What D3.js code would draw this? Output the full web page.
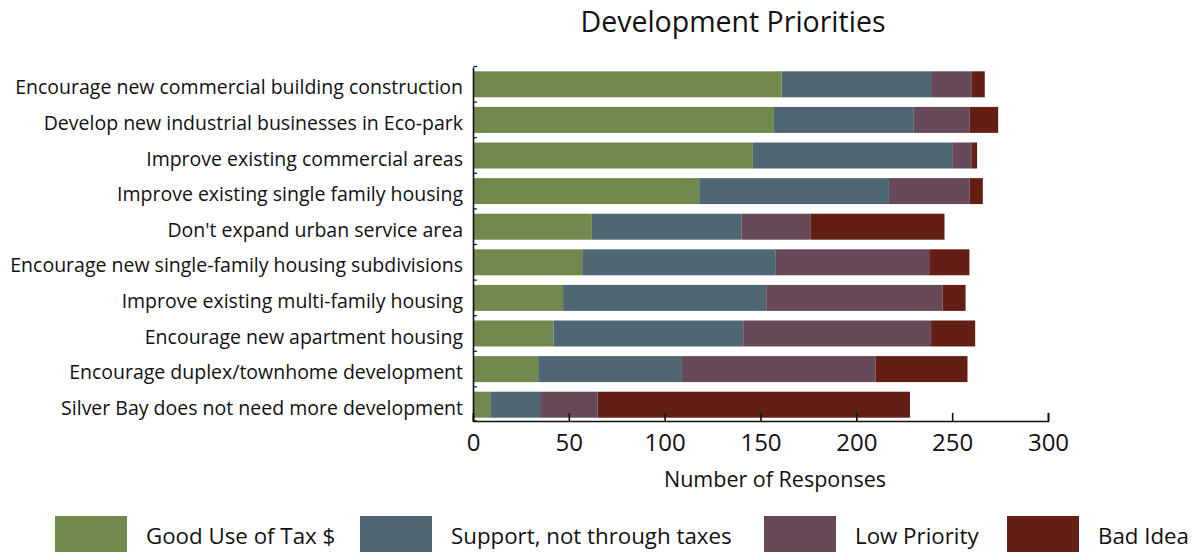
<!DOCTYPE html>
<html><head><meta charset="utf-8">
<script src="https://cdn.jsdelivr.net/npm/d3@7"></script>
<style>body{margin:0;background:#fff}svg{display:block}text{font-family:"Open Sans",sans-serif;fill:#111}</style>
</head><body><svg id="c" width="1192" height="552"></svg>
<script>
const categories = [
  "Encourage new commercial building construction",
  "Develop new industrial businesses in Eco-park",
  "Improve existing commercial areas",
  "Improve existing single family housing",
  "Don't expand urban service area",
  "Encourage new single-family housing subdivisions",
  "Improve existing multi-family housing",
  "Encourage new apartment housing",
  "Encourage duplex/townhome development",
  "Silver Bay does not need more development"
];
const seriesNames = ["Good Use of Tax $", "Support, not through taxes", "Low Priority", "Bad Idea"];
const goodUse   = [161, 157, 146, 118, 62, 57, 47, 42, 34, 9];
const support   = [78, 73, 104, 99, 78, 101, 106, 99, 75, 26];
const lowPrio   = [21, 29, 10, 42, 36, 80, 92, 98, 101, 30];
const badIdea   = [7, 15, 3, 7, 70, 21, 12, 23, 48, 163];
const xTicks = [0, 50, 100, 150, 200, 250, 300];
const colors = ["#72894E", "#4F6773", "#674A5A", "#641F15"];

const rows = categories.map((c, i) => ({cat: c, s0: goodUse[i], s1: support[i], s2: lowPrio[i], s3: badIdea[i]}));
const keys = ["s0", "s1", "s2", "s3"];
const stack = d3.stack().keys(keys)(rows);

const svg = d3.select("#c");
const x = d3.scaleLinear().domain([0, 300]).range([473, 1048]);
const y = d3.scaleBand().domain(categories).range([66.5, 422.5]).paddingInner(0.27).paddingOuter(0.135);

// title
svg.append("text").attr("x", 733).attr("y", 32).attr("text-anchor", "middle")
  .style("font-size", "28.5px").text("Development Priorities");

// bars
svg.append("g").selectAll("g").data(stack).join("g")
  .attr("fill", (d, i) => colors[i])
  .selectAll("rect").data(d => d).join("rect")
  .attr("x", d => x(d[0])).attr("width", d => x(d[1]) - x(d[0]))
  .attr("y", d => y(d.data.cat)).attr("height", y.bandwidth());

// category labels
svg.append("g").selectAll("text").data(categories).join("text")
  .attr("x", 463).attr("y", d => y(d) + y.bandwidth() / 2 + 10)
  .attr("text-anchor", "end").style("font-size", "19.5px").text(d => d);

// y axis line with inward ticks at band boundaries
const yAxisG = svg.append("g");
yAxisG.append("line").attr("x1", 473.5).attr("x2", 473.5).attr("y1", 67.5).attr("y2", 421.5)
  .attr("stroke", "#111").attr("stroke-width", 1.6);
const bounds = categories.map(c => y(c) - y.step() * y.paddingInner() / 2).concat([421]);
yAxisG.selectAll("line.t").data(bounds).join("line").attr("class", "t")
  .attr("x1", 473.5).attr("x2", 477).attr("y1", d => d).attr("y2", d => d)
  .attr("stroke", "#111").attr("stroke-width", 1.2);

// x axis
const xAxis = d3.axisBottom(x).tickValues(xTicks).tickSize(-8).tickPadding(13).tickFormat(d3.format("d"));
const gx = svg.append("g").attr("transform", "translate(0,421)").call(xAxis);
gx.select(".domain").attr("stroke", "#111").attr("stroke-width", 1.6);
gx.selectAll(".tick line").attr("stroke", "#111").attr("stroke-width", 1.6);
gx.selectAll(".tick text").style("font-family", "'Open Sans',sans-serif").style("font-size", "24px").attr("fill", "#111");

svg.append("text").attr("x", 775).attr("y", 487).attr("text-anchor", "middle")
  .style("font-size", "21.5px").text("Number of Responses");

// legend
const legendX = [55, 360, 764, 1007];
const lg = svg.append("g").selectAll("g").data(seriesNames).join("g")
  .attr("transform", (d, i) => `translate(${legendX[i]},516)`);
lg.append("rect").attr("width", 72).attr("height", 36).attr("fill", (d, i) => colors[i]);
lg.append("text").attr("x", 91).attr("y", 28).style("font-size", "22.3px").text(d => d);
</script></body></html>
